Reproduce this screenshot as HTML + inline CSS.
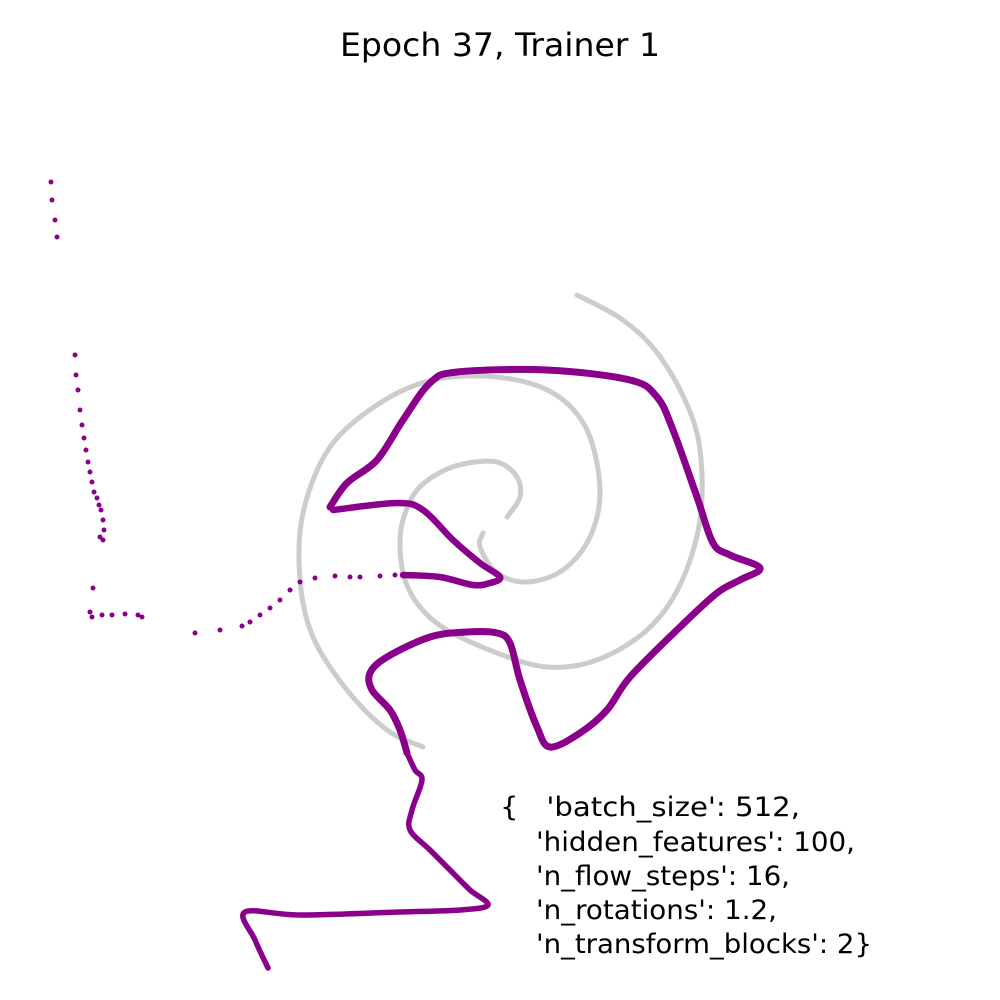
<!DOCTYPE html>
<html><head><meta charset="utf-8"><style>
body{margin:0;background:#fff;}
svg{display:block;}
text{font-family:"DejaVu Sans","Liberation Sans",sans-serif;}
</style></head><body>
<svg id="chart" width="1000" height="1000">
<text x="340" y="56" font-size="32" fill="#000" textLength="320" lengthAdjust="spacingAndGlyphs">Epoch 37, Trainer 1</text>
<g id="plot"></g>
<g font-size="26.5" fill="#000">
<text x="500" y="816" xml:space="preserve" textLength="300" lengthAdjust="spacingAndGlyphs">{   'batch_size': 512,</text>
<text x="536" y="851" textLength="319" lengthAdjust="spacingAndGlyphs">'hidden_features': 100,</text>
<text x="536" y="885" textLength="254" lengthAdjust="spacingAndGlyphs">'n_flow_steps': 16,</text>
<text x="536" y="919" textLength="241" lengthAdjust="spacingAndGlyphs">'n_rotations': 1.2,</text>
<text x="536" y="953" textLength="336" lengthAdjust="spacingAndGlyphs">'n_transform_blocks': 2}</text>
</g>
</svg>
<script>
// data units: x,y in [0,10]
const spiralAX=[5.07,5.20,5.17,5.00,4.75,4.45,4.17,4.03,4.00,4.05,4.20,4.47,4.97,5.47,5.97,6.47,6.80,7.00,7.00,6.85,6.55,6.20,5.77];
const spiralAY=[5.17,4.97,4.77,4.63,4.62,4.70,4.90,5.20,5.47,5.80,6.07,6.30,6.53,6.67,6.60,6.30,5.85,5.20,4.50,4.00,3.50,3.18,2.95];
const spiralBX=[4.83,4.80,4.97,5.27,5.63,5.90,6.00,5.87,5.53,4.97,4.33,3.80,3.30,3.03,3.00,3.13,3.47,3.87,4.23];
const spiralBY=[5.33,5.47,5.73,5.82,5.70,5.37,4.90,4.30,3.93,3.77,3.80,4.03,4.47,5.13,5.80,6.37,6.90,7.30,7.47];
const mainX=[3.30,3.47,3.77,4.03,4.30,4.57,5.47,6.30,6.57,6.73,6.97,7.13,7.30,7.60,7.40,7.17,6.80,6.30,6.07,5.80,5.50,5.37,5.20,5.10,4.97,4.67,4.30,3.87,3.70,3.72,3.90,4.00,4.07];
const mainY=[5.07,4.83,4.60,4.20,3.83,3.72,3.70,3.80,3.97,4.30,4.97,5.43,5.55,5.68,5.80,5.93,6.27,6.77,7.10,7.33,7.47,7.27,6.80,6.43,6.33,6.32,6.37,6.57,6.73,6.90,7.10,7.30,7.53];
const lowerX=[4.07,4.15,4.22,4.12,4.10,4.30,4.50,4.70,4.88,4.60,4.00,3.00,2.45,2.55,2.68];
const lowerY=[7.53,7.70,7.80,8.10,8.30,8.50,8.70,8.90,9.05,9.10,9.12,9.15,9.12,9.40,9.68];
const branchX=[3.33,3.97,4.23,4.53,4.80,5.00,4.90,4.73,4.40,4.03];
const branchY=[5.10,5.03,5.10,5.40,5.63,5.77,5.83,5.85,5.77,5.75];
const dotsX=[3.95,3.80,3.60,3.50,3.35,3.15,3.00,2.90,2.80,2.70,2.60,2.50,2.42,2.20,1.95,1.42,1.38,1.25,1.12,1.02,0.92,0.90,0.93];
const dotsY=[5.75,5.76,5.77,5.77,5.76,5.78,5.82,5.90,6.00,6.08,6.15,6.22,6.26,6.30,6.33,6.17,6.15,6.14,6.15,6.15,6.17,6.12,5.88];
const leftX=[0.51,0.52,0.55,0.57,0.75,0.76,0.78,0.80,0.82,0.84,0.86,0.88,0.90,0.92,0.94,0.97,0.99,1.01,1.03,1.04,1.03,1.00];
const leftY=[1.82,2.00,2.20,2.37,3.55,3.75,3.90,4.10,4.25,4.38,4.50,4.62,4.72,4.82,4.92,4.98,5.05,5.10,5.20,5.30,5.40,5.37];
const xs=v=>v*100, ys=v=>v*100;
const NS='http://www.w3.org/2000/svg', plot=document.getElementById('plot');
function smooth(P){
  let d='M'+P[0][0]+','+P[0][1];
  for(let i=0;i<P.length-1;i++){
    const p0=P[Math.max(i-1,0)],p1=P[i],p2=P[i+1],p3=P[Math.min(i+2,P.length-1)];
    const c1=[p1[0]+(p2[0]-p0[0])/6,p1[1]+(p2[1]-p0[1])/6];
    const c2=[p2[0]-(p3[0]-p1[0])/6,p2[1]-(p3[1]-p1[1])/6];
    d+=' C'+c1+' '+c2+' '+p2;
  }
  return d;
}
function line(X,Y,name,color,w,op){
  const p=document.createElementNS(NS,'path');
  p.setAttribute('d',smooth(X.map((x,i)=>[xs(x),ys(Y[i])])));
  p.setAttribute('fill','none');p.setAttribute('stroke',color);p.setAttribute('stroke-width',w);
  p.setAttribute('stroke-linejoin','round');p.setAttribute('stroke-linecap','round');p.setAttribute('opacity',op);
  
  
  plot.appendChild(p);
}
function dots(X,Y,name){
  X.forEach((x,i)=>{const c=document.createElementNS(NS,'circle');
    c.setAttribute('cx',xs(x));c.setAttribute('cy',ys(Y[i]));c.setAttribute('r',2.5);c.setAttribute('fill','#8b008b');
    
    
    plot.appendChild(c);});
}
line(spiralAX,spiralAY,'target-spiral-arm-a','#999',5,0.5);
line(spiralBX,spiralBY,'target-spiral-arm-b','#999',5,0.5);
line(mainX,mainY,'sample-curve-main','#8b008b',7,1);
line(lowerX,lowerY,'sample-curve-lower','#8b008b',5.5,1);
line(branchX,branchY,'sample-curve-branch','#8b008b',6.5,1);
dots(dotsX,dotsY,'sample-dot');
dots(leftX,leftY,'sample-dot-left');
</script>
</body></html>
